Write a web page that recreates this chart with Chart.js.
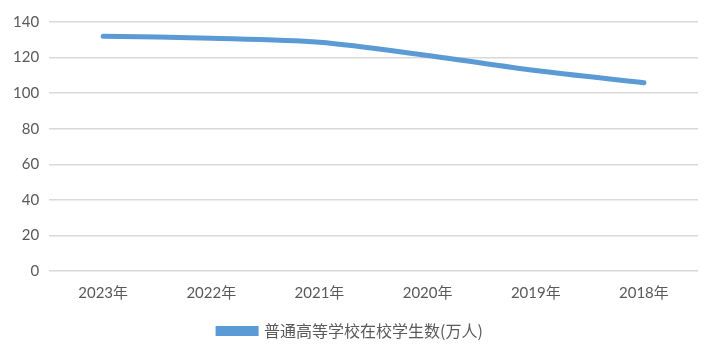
<!DOCTYPE html>
<html>
<head>
<meta charset="utf-8">
<script src="https://cdn.jsdelivr.net/npm/chart.js@4/dist/chart.umd.min.js"></script>
<style>
  html, body { margin: 0; padding: 0; background: #fff; }
  #wrap { width: 711px; height: 354px; }
</style>
</head>
<body>
<div id="wrap"><canvas id="studentsChart"></canvas></div>
<script>
const years = ['2023年', '2022年', '2021年', '2020年', '2019年', '2018年'];
const students = [132, 130.9, 128.6, 121.2, 112.7, 105.8];
const yTicks = [0, 20, 40, 60, 80, 100, 120, 140];
const seriesName = '普通高等学校在校学生数(万人)';

const canvas = document.getElementById('studentsChart');

new Chart(canvas, {
    type: 'line',
    data: {
        labels: years,
        datasets: [{
            label: seriesName,
            data: students,
            tension: 0.3,
            fill: false,
            borderColor: '#5b9bd5',
            backgroundColor: '#5b9bd5',
            borderWidth: 5,
            borderCapStyle: 'round',
            pointRadius: 0,
            pointHoverRadius: 0
        }]
    },
    options: {
        responsive: true,
        maintainAspectRatio: false,
        animation: false,
        layout: {
            padding: { top: 22, right: 13, left: 3, bottom: 5 }
        },
        plugins: {
            legend: {
                position: 'bottom',
                labels: {
                    color: '#595959',
                    boxWidth: 38,
                    boxHeight: 5,
                    padding: 8,
                    font: { family: '"Noto Sans CJK SC", sans-serif', size: 16 }
                }
            },
            tooltip: { enabled: false }
        },
        scales: {
            x: {
                offset: true,
                grid: { display: false, drawTicks: false },
                border: { display: false },
                ticks: {
                    color: '#595959',
                    padding: 13,
                    font: { family: 'Lato, "Noto Sans CJK SC", sans-serif', size: 15 }
                }
            },
            y: {
                min: 0,
                max: 140,
                afterBuildTicks: (axis) => {
                    axis.ticks = yTicks.map(v => ({ value: v }));
                },
                grid: { color: '#d9d9d9', lineWidth: 1.5, drawTicks: false },
                border: { display: false },
                ticks: {
                    color: '#595959',
                    padding: 10,
                    font: { family: 'Lato, sans-serif', size: 15 }
                }
            }
        }
    }
});
</script>
</body>
</html>
